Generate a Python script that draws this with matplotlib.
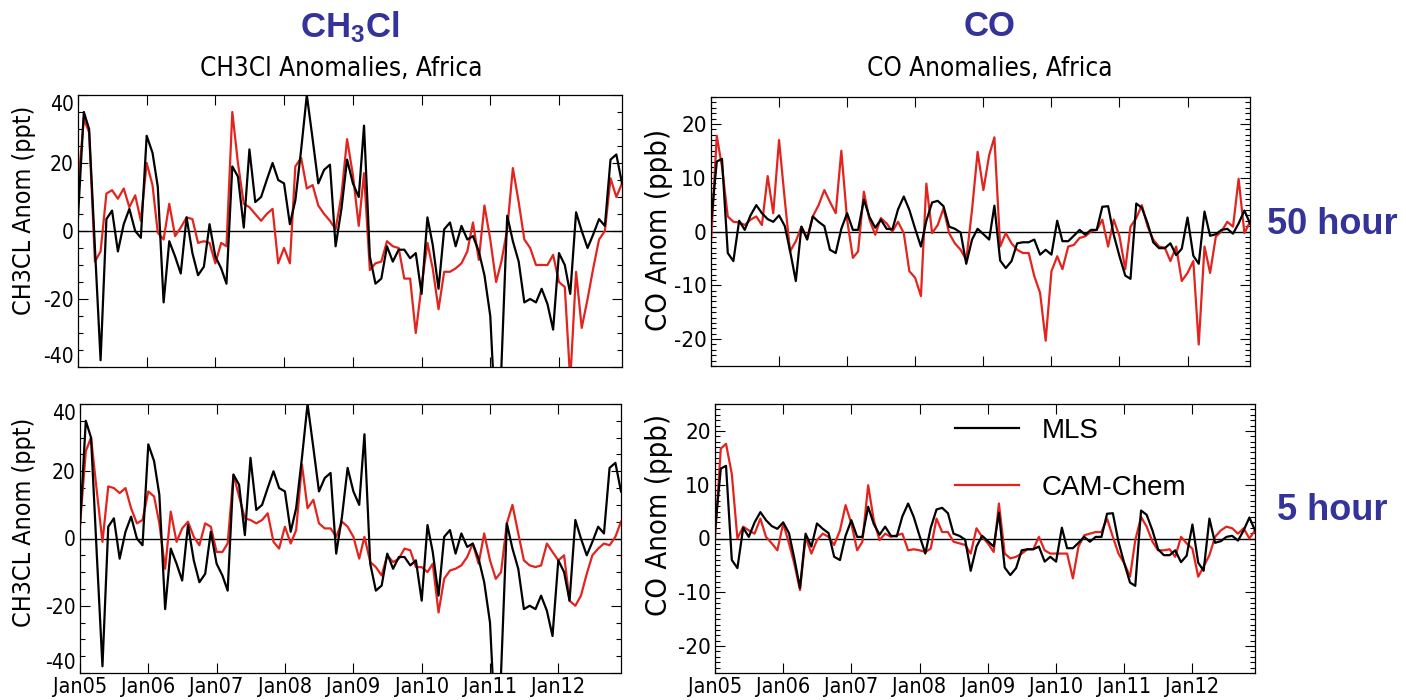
import numpy as np
import pandas as pd
import matplotlib
matplotlib.use('Agg')
import matplotlib.pyplot as plt
import matplotlib.dates as mdates
from matplotlib.ticker import MultipleLocator
from matplotlib import font_manager
from matplotlib.font_manager import FontProperties

# monthly anomalies, Jan 2005 - Dec 2012
months = pd.date_range('2005-01-01', periods=96, freq='MS')
year_ticks = pd.date_range('2005-01-01', periods=8, freq='12MS')

ch3cl_mls = [4, 35, 30, -5, -38, 3.5, 6, -6, 2, 6.5, 0, -2,
             28, 23, 13, -21, -3, -7.5, -12.5, 4, -6.5, -13, -10.5, 2,
             -7.5, -11, -15.5, 19, 16, 1, 24, 8.5, 10, 15, 20, 15,
             14, 2, 9, 24, 40, 27, 14, 18, 19.5, -4.5, 6.5, 21,
             14, 10, 31, -7.5, -15.5, -14, -4.5, -9, -5.5, -5.5, -8, -6.5,
             -18.5, 4, -4, -17, 0.5, 2.5, -4.5, 1.5, -2.5, -1.5, -6, -13,
             -25, -60, -40, 4.5, -3, -9, -21, -20, -21, -17, -21.5, -29,
             -6.5, -10, -18.5, 5.5, 0, -5, -1, 3.5, 1.5, 21, 22.5, 14]

ch3cl_cam_50h = [13, 33, 29, -9, -6, 11, 12, 9.5, 12.5, 7, 10.5, 3,
                 20, 13.5, -0.5, -2.5, 8, -1.5, 1, 4, 3.5, -3.5, -3, -3.5,
                 -9.5, -3.5, -4.5, 35, 20, 8, 7, 5, 3, 5, 6.5, -9.5,
                 -5, -9.5, 19, 21.5, 12.5, 13.5, 7.5, 5, 3, 0.5, 10.5, 27,
                 16.5, 1.5, 17, -11.5, -9.5, -9, -3, -4.5, -5, -14, -14, -30,
                 -16, -3.5, -11, -23, -12, -12, -11, -9.5, -6, 2.5, -8.5, 7.5,
                 -2.5, -15, -9, 0.5, 18.5, 8.5, -2.5, -5, -10, -10, -10, -7,
                 -15, -16.5, -44, -12, -28.5, -20, -11, -2.5, 0, 15.5, 10, 14]

ch3cl_cam_5h = [4, 26, 30, 14, -1, 15.5, 15, 13.5, 15, 9, 4.5, 5.5,
                14, 12.5, 4.5, -9, 8, -1, 3, 5, 0.5, -2, 4.5, 3.5,
                -4, -4, -1.5, 19, 12.5, 6, 5.5, 4.5, 5.5, 7.5, -1, -3,
                3.5, -1.5, 2.5, 22, 9, 11.5, 4.5, 3, 3, 0.5, 5, 3.5,
                0.5, -6, 0.5, -7, -8.5, -11, -5, -7, -6, -3, -3.5, -8.5,
                -8.5, -10, -7.5, -22, -12, -9.5, -9, -8, -5.5, -1.5, -7.5, 1.5,
                -6.5, -12, -10, 4.5, 10, 1.5, -6.5, -8, -8.5, -8, -1.5, -4,
                -6.5, -5, -18.5, -20, -17, -10.5, -5, -3, -1.5, -2, 0.5, 5]

co_mls = [1.5, 13, 13.5, -4, -5.5, 2, 0.3, 3, 4.9, 3.4, 2.3, 1.8,
          3, 1, -3.6, -9.2, 0.9, -1.5, 2.8, 1.8, 1, -3.4, -4, 0.5,
          3.4, 0.3, 0.3, 5.9, 2.7, 0.7, 2.2, 0.5, 0.4, 4.1, 6.5, 4,
          0.5, -2.8, 2, 5.4, 5.7, 4.7, 0.9, 0.5, -0.2, -6, -1.5, 0.5,
          -0.5, -1.5, 4.8, -5.4, -6.8, -5.5, -2.2, -2, -2, -1.5, -4.3, -3.4,
          -4.3, 2, -1.8, -1.8, -0.8, 0.3, -0.6, 0.3, 0.3, 4.6, 4.7, -0.6,
          -4.6, -8.2, -8.8, 5.2, 4.4, 1.5, -2, -3.1, -3.1, -2.2, -4.4, -3.2,
          2.6, -4.5, -6, 3.7, -0.8, -0.5, 0.3, 0.5, -0.4, 1.5, 3.9, 1.5]

co_cam_50h = [-2, 17.8, 12, 2.8, 1.8, 1.7, 1.2, 2.2, 2.8, 1.2, 10.3, 3.4,
              17, 5.8, -3.7, -1.8, 0.9, -1.2, 2.8, 4.9, 7.7, 5.5, 3.4, 15,
              2.2, -4.9, -3.7, 7.4, 2.2, -0.6, 2.5, 1.5, 0, 1.8, -0.3, -7.4,
              -8.6, -12, 8.9, -0.3, 1.2, 4.3, -0.3, -2.2, -3.4, -5.3, 4, 14.8,
              7.7, 14.2, 17.5, -2.8, -0.3, -2.2, -3.4, -4, -4, -8.3, -11.4, -20.3,
              -7.4, -4.6, -7, -2.8, -2.5, -1.2, -0.9, 0, 0.3, 2.2, -2.8, 2.2,
              -0.9, -7, 0.9, 2.5, 4.9, 0.9, -1.5, -2.8, -3, -5.5, -2.8, -9.2,
              -7.7, -5.5, -21, -2.8, -7.7, -0.9, 0, 1.8, 0.9, 9.8, -0.3, 1.8]

co_cam_5h = [0, 16.7, 17.6, 12, 0, 2.2, 1.5, 0.9, 3.7, 0.3, -0.9, -2.2,
             2.8, -0.9, -4.6, -9.6, 0.3, -2.8, -0.3, 0.9, 0.3, -1.2, 1.5, 6.2,
             2.8, -2.2, -0.6, 9.9, 3.4, -0.3, 0.9, 0.3, 0.6, 0.9, -2.2, -2,
             -2.2, -2.5, -1.9, 3.7, 1.2, 1.2, -0.6, -0.9, -1.2, -2.8, 1.9, 0.3,
             -0.9, -2.5, 6.5, -2.8, -3.7, -3.4, -2.8, -2, -2, 0.3, -2.2, -2.8,
             -2.8, -2.8, -2.8, -7.4, -1.5, 0.6, 0.9, 1.2, 1.2, 3.7, 0.3, -2.8,
             -4.6, -7.1, -0.3, 4, 2.2, -0.6, -2.2, -2.2, -2, -3.4, 0.3, -0.9,
             -1.9, -7.1, -5.2, -3.1, 0.3, 1.5, 2.2, 1.9, 0.9, 1.9, 0, 1.5]

RED = '#e3241e'
BLUE = '#333399'

plt.rcParams['axes.unicode_minus'] = False
plt.rcParams['mathtext.fontset'] = 'custom'
plt.rcParams['mathtext.bf'] = 'Liberation Sans:bold'
plt.rcParams['mathtext.rm'] = 'Liberation Sans'


def find_narrow():
    """look for any condensed / narrow sans face on the system"""
    for f in font_manager.fontManager.ttflist:
        if 'Mono' in f.name or 'Serif' in f.name:
            continue
        if f.style != 'normal' or f.weight not in (400, 'normal', 'regular', 'book'):
            continue
        if 'Narrow' in f.name or 'Condensed' in f.name or \
                str(f.stretch) in ('condensed', 'semi-condensed', 'extra-condensed'):
            return f.fname
    return None


NARROW_FILE = find_narrow()


def narrow(size):
    if NARROW_FILE:
        return FontProperties(fname=NARROW_FILE, size=size)
    # no condensed face: Arial-metric font, a bit smaller
    return FontProperties(family='Liberation Sans', size=size * 0.88)


W, H = 1406, 700
fig = plt.figure(figsize=(W / 100, H / 100), dpi=100)


def px_axes(x0, y0, x1, y1):
    return fig.add_axes([x0 / W, 1 - y1 / H, (x1 - x0) / W, (y1 - y0) / H])


def style(ax, lim, major, minor, ysz, xlabels):
    ax.set_xlim(months[0], months[-1])
    ax.set_ylim(-lim, lim)
    ax.axhline(0, color='black', lw=1.0, zorder=1)
    ax.set_xticks(year_ticks)
    ax.xaxis.set_major_formatter(mdates.DateFormatter('%b%y'))
    ax.yaxis.set_major_locator(MultipleLocator(major))
    ax.yaxis.set_minor_locator(MultipleLocator(minor))
    ax.tick_params(which='both', direction='in', top=True, right=True, width=0.8)
    ax.tick_params(which='major', length=7, pad=3)
    ax.tick_params(which='minor', length=3.5)
    ax.tick_params(axis='x', which='minor', bottom=False, top=False)
    for s in ax.spines.values():
        s.set_linewidth(0.9)
    fig.canvas.draw()
    for lab, val in zip(ax.get_yticklabels(), ax.get_yticks()):
        lab.set_fontproperties(narrow(ysz))
        # end labels sit inside the frame, as in the IDL plots
        if val >= lim:
            lab.set_verticalalignment('top')
        elif val <= -lim:
            lab.set_verticalalignment('bottom')
    if xlabels:
        for lab in ax.get_xticklabels():
            lab.set_fontproperties(narrow(15.5))
    else:
        ax.set_xticklabels([])


ax_tl = px_axes(78, 95, 622, 367)
ax_bl = px_axes(80, 404, 621, 673)
ax_tr = px_axes(711, 97, 1250, 366)
ax_br = px_axes(715, 404, 1255, 673)

panels = [
    (ax_tl, ch3cl_mls, ch3cl_cam_50h, 40, 20, 5, 15, False),
    (ax_bl, ch3cl_mls, ch3cl_cam_5h, 40, 20, 5, 15, True),
    (ax_tr, co_mls, co_cam_50h, 25, 10, 1, 16, False),
    (ax_br, co_mls, co_cam_5h, 25, 10, 1, 16, True),
]
for ax, mls, cam, lim, major, minor, ysz, xl in panels:
    ax.plot(months, cam, color=RED, lw=1.6, label='CAM-Chem', zorder=2)
    ax.plot(months, mls, color='black', lw=1.6, label='MLS', zorder=3)
    style(ax, lim, major, minor, ysz, xl)

# legend in the lower CO panel
h, l = ax_br.get_legend_handles_labels()
ax_br.legend(h[::-1], l[::-1], loc='upper left', bbox_to_anchor=(0.445, 0.948),
             frameon=False, handlelength=2.3, handletextpad=0.8,
             labelspacing=1.1, borderpad=0, borderaxespad=0,
             prop={'family': 'Liberation Sans', 'size': 20})

# y axis labels
for yc in (210, 522):
    fig.text(24 / W, 1 - yc / H, 'CH3CL Anom (ppt)', rotation=90, ha='center',
             va='center', fontproperties=narrow(18))
for yc in (230, 515):
    fig.text(659 / W, 1 - yc / H, 'CO Anom (ppb)', rotation=90, ha='center',
             va='center', fontproperties=narrow(21))

# titles
fig.text(350 / W, 1 - 27 / H, r'$\mathbf{CH_3Cl}$', ha='center', va='center',
         color=BLUE, fontsize=25)
fig.text(990 / W, 1 - 27 / H, 'CO', ha='center', va='center', color=BLUE,
         fontsize=25, fontweight='bold', family='Liberation Sans')
fig.text(341 / W, 1 - 69 / H, 'CH3Cl Anomalies, Africa', ha='center', va='center',
         fontproperties=narrow(18.7))
fig.text(990 / W, 1 - 69 / H, 'CO Anomalies, Africa', ha='center', va='center',
         fontproperties=narrow(18.7))

fig.text(1332 / W, 1 - 225 / H, '50 hour', ha='center', va='center', color=BLUE,
         fontsize=26, fontweight='bold', family='Liberation Sans')
fig.text(1332 / W, 1 - 510 / H, '5 hour', ha='center', va='center', color=BLUE,
         fontsize=26, fontweight='bold', family='Liberation Sans')

fig.savefig('out.png', dpi=100)
